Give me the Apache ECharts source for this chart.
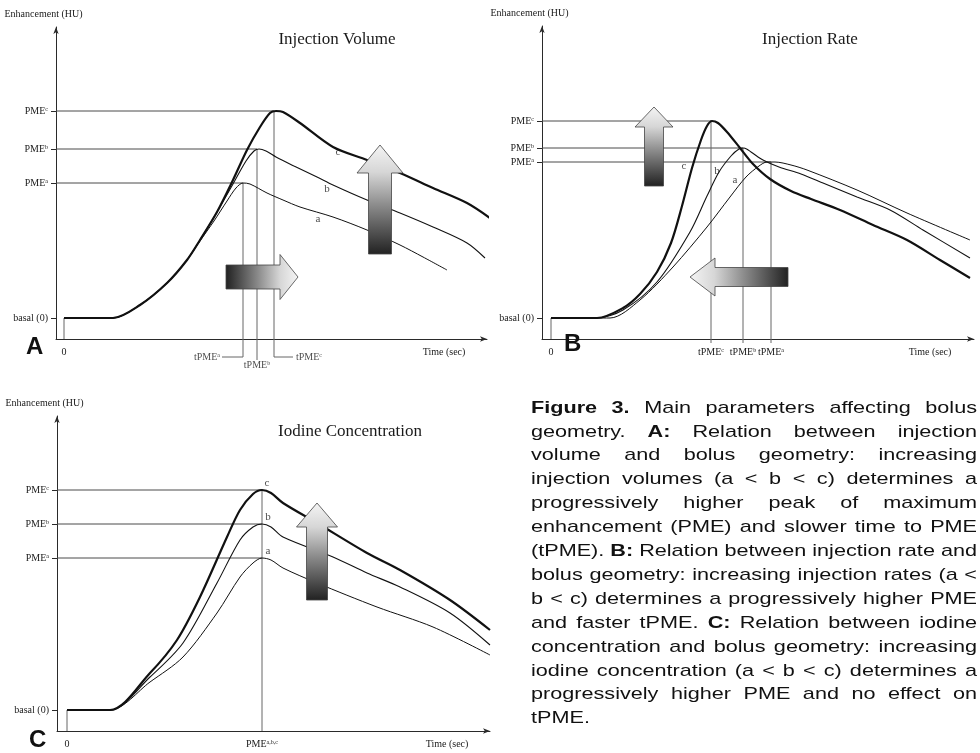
<!DOCTYPE html>
<html><head><meta charset="utf-8">
<script src="https://cdn.jsdelivr.net/npm/echarts@6/dist/echarts.min.js"></script>
<style>html,body{margin:0;padding:0;background:#fff}#c{width:980px;height:753px}</style>
</head><body><div id="c"></div>
<script>
// ===== Panel A : Injection Volume (x = time units, y = enhancement units, basal = 0) =====
const volA_a = [[0,0],[49,0],[76,13],[103,35],[123,58],[136,77],[150,97],[163,117],[172,130],[179,135],[186,134],[203,125],[219,118],[236,111],[269,101],[303,88],[336,73],[359,61],[383,48]];
const volA_b = [[0,0],[49,0],[76,13],[103,35],[123,58],[136,78],[153,106],[169,134],[182,157],[190,167],[195,169],[202,167],[212,161],[230,152],[253,141],[269,133],[303,118],[336,105],[369,91],[403,75],[421,60]];
const volA_c = [[0,0],[49,0],[76,13],[103,35],[123,58],[136,78],[153,106],[169,138],[183,168],[196,191],[206,205],[212,207],[219,206],[236,195],[269,171],[303,158],[336,145],[369,130],[403,115],[426,100]];
const pmeA  = [135,169,207];          // PME a,b,c
const tpmeA = [179,193,210];          // tPME a,b,c
const yLabelsA = ['basal (0)','PME{s|a}','PME{s|b}','PME{s|c}'];
const xTicksA = [0,380];
const xLabelsA = ['0','Time (sec)'];
const arrowsA = [[162,41,234,41],[316,64,316,173]];

// ===== Panel B : Injection Rate =====
const rateB_a = [[0,0],[59,0],[89,18],[122,51],[156,91],[179,121],[195,141],[208,152],[216,156],[224,156],[240,153],[256,148],[306,128],[356,105],[419,78]];
const rateB_b = [[0,0],[46,0],[72,8],[106,36],[139,86],[156,122],[168,146],[180,162],[188,169],[193,170],[200,166],[212,158],[228,151],[250,144],[272,135],[306,121],[339,108],[372,88],[419,60]];
const rateB_c = [[0,0],[46,0],[72,10],[89,24],[106,46],[120,75],[131,112],[141,150],[150,178],[156,192],[161,197],[167,195],[176,186],[189,170],[202,154],[219,139],[240,127],[260,119],[289,108],[322,93],[356,78],[389,58],[419,40]];
const pmeB  = [156,170,197];
const tpmeB = [220,192,160];
const yLabelsB = ['basal (0)','PME{s|a}','PME{s|b}','PME{s|c}'];
const xLabelsB = ['0','tPME{s|c}','tPME{s|b}','tPME{s|a}','Time (sec)'];
const arrowsB = [[103,132,103,211],[237,41,139,41]];

// ===== Panel C : Iodine Concentration =====
const concC_a = [[0,0],[43,0],[83,28],[116,53],[150,97],[173,133],[186,147],[195,152],[204,150],[216,142],[250,127],[310,103],[366,83],[423,55]];
const concC_b = [[0,0],[43,0],[83,33],[116,67],[150,127],[173,170],[186,183],[195,186],[204,183],[216,173],[266,153],[300,137],[333,123],[383,97],[423,65]];
const concC_c = [[0,0],[43,0],[83,37],[110,70],[133,113],[160,173],[173,200],[186,216],[195,220],[204,217],[216,207],[250,187],[300,157],[333,140],[383,110],[423,80]];
const pmeC  = [152,186,220];
const tpmeC = 195;
const yLabelsC = ['basal (0)','PME{s|a}','PME{s|b}','PME{s|c}'];
const xLabelsC = ['0','PME{s|a,b,c}','Time (sec)'];
const arrowsC = [[250,110,250,207]];

const captionLines = [
  'Figure 3. Main parameters affecting bolus',
  'geometry. A: Relation between injection',
  'volume and bolus geometry: increasing',
  'injection volumes (a < b < c) determines a',
  'progressively higher peak of maximum',
  'enhancement (PME) and slower time to PME',
  '(tPME). B: Relation between injection rate and',
  'bolus geometry: increasing injection rates (a <',
  'b < c) determines a progressively higher PME',
  'and faster tPME. C: Relation between iodine',
  'concentration and bolus geometry: increasing',
  'iodine concentration (a < b < c) determines a',
  'progressively higher PME and no effect on',
  'tPME.'
];
const boldWords = ['Figure','3.','A:','B:','C:'];

// ===== rendering =====
const SERIF = '"Liberation Serif","Times New Roman",serif';
const SANS = '"Liberation Sans",Arial,sans-serif';
const INK = '#1a1a1a';
const GUIDE = '#4a4a4a';
const RICH = { s: { fontSize: 6, fontFamily: SERIF, color: INK, verticalAlign: 'top', lineHeight: 8 } };

const grids = [
  { left: 56, top: 27, width: 431, height: 312 },
  { left: 542, top: 26, width: 432, height: 313 },
  { left: 57, top: 416, width: 433, height: 315 }
];
const ranges = [
  { x: [-8, 423], y: [-21, 291] },
  { x: [-9, 423], y: [-21, 292] },
  { x: [-10, 423], y: [-21, 294] }
];

function mapLabel(values, labels) { const m = {}; values.forEach((v, i) => m[v] = labels[i]); return v => m[v] !== undefined ? m[v] : ''; }

const yTickVals = [[0, ...pmeA], [0, ...pmeB], [0, ...pmeC]];
const yTickLabels = [yLabelsA, yLabelsB, yLabelsC];
const xTickVals = [xTicksA, [0, ...tpmeB.slice().reverse(), 379], [0, tpmeC, 380]];
const xTickLabels = [xLabelsA, xLabelsB, xLabelsC];

const axisLineStyle = { color: '#2a2a2a', width: 1 };
const xAxes = [], yAxes = [];
for (let g = 0; g < 3; g++) {
  xAxes.push({
    type: 'value', gridIndex: g, min: ranges[g].x[0], max: ranges[g].x[1],
    axisLine: { show: true, onZero: false, lineStyle: axisLineStyle, symbol: ['none', 'arrow'], symbolSize: [4, 7] },
    axisTick: { show: false },
    axisLabel: { show: true, customValues: xTickVals[g], formatter: mapLabel(xTickVals[g], xTickLabels[g]),
      margin: 8, fontFamily: SERIF, fontSize: 10, color: INK, rich: RICH, hideOverlap: false },
    splitLine: { show: false }
  });
  yAxes.push({
    type: 'value', gridIndex: g, min: ranges[g].y[0], max: ranges[g].y[1],
    name: 'Enhancement (HU)', nameLocation: 'end', nameGap: 8,
    nameTextStyle: { fontFamily: SERIF, fontSize: 10, color: INK, align: 'center', verticalAlign: 'bottom', padding: [0, 25, 0, 0] },
    axisLine: { show: true, onZero: false, lineStyle: axisLineStyle, symbol: ['none', 'arrow'], symbolSize: [4, 7] },
    axisTick: { show: true, customValues: yTickVals[g], length: 5, lineStyle: { color: '#2a2a2a' } },
    axisLabel: { show: true, customValues: yTickVals[g], formatter: mapLabel(yTickVals[g], yTickLabels[g]),
      margin: 8, fontFamily: SERIF, fontSize: 10, color: INK, rich: RICH },
    splitLine: { show: false }
  });
}

const series = [];
function line(g, data, width, color, smooth, z) {
  series.push({ type: 'line', xAxisIndex: g, yAxisIndex: g, data, symbol: 'none', smooth: smooth || false,
    clip: false, silent: true, animation: false, lineStyle: { width, color }, z: z || 2 });
}
function labels(g, items, fontSize) {
  series.push({ type: 'scatter', xAxisIndex: g, yAxisIndex: g, symbolSize: 0, clip: false, silent: true, z: 6,
    data: items.map(it => ({ value: [it[0], it[1]], label: { show: true, formatter: it[2], position: [0, 0],
      align: it[3] || 'center', verticalAlign: 'middle', fontFamily: SERIF, fontSize: fontSize, color: INK, rich: RICH } })) });
}
function arrow(g, spec, sz) {
  series.push({ type: 'custom', xAxisIndex: g, yAxisIndex: g, silent: true, z: 5, clip: false, data: [spec],
    renderItem: (p, api) => {
      const t = api.coord([api.value(0), api.value(1)]);
      const h = api.coord([api.value(2), api.value(3)]);
      const dx = h[0] - t[0], dy = h[1] - t[1], L = Math.hypot(dx, dy);
      const ux = dx / L, uy = dy / L, nx = -uy, ny = ux;
      const nk = [h[0] - ux * sz.hl, h[1] - uy * sz.hl];
      const pts = [
        [t[0] + nx * sz.bw, t[1] + ny * sz.bw], [nk[0] + nx * sz.bw, nk[1] + ny * sz.bw],
        [nk[0] + nx * sz.hw, nk[1] + ny * sz.hw], [h[0], h[1]],
        [nk[0] - nx * sz.hw, nk[1] - ny * sz.hw], [nk[0] - nx * sz.bw, nk[1] - ny * sz.bw],
        [t[0] - nx * sz.bw, t[1] - ny * sz.bw]
      ];
      const grad = new echarts.graphic.LinearGradient(t[0], t[1], h[0], h[1], [
        { offset: 0, color: '#222222' }, { offset: 0.45, color: '#8c8c8c' },
        { offset: 0.75, color: '#d6d6d6' }, { offset: 1, color: '#f4f4f4' }], true);
      return { type: 'polygon', shape: { points: pts }, style: { fill: grad, stroke: '#444', lineWidth: 0.8 } };
    } });
}

// --- Panel A
[0, 1, 2].forEach(i => {
  line(0, [[ranges[0].x[0], pmeA[i]], [tpmeA[i], pmeA[i]]], 1, GUIDE);
});
line(0, [[tpmeA[0], pmeA[0]], [tpmeA[0], -39], [158, -39]], 1, '#666');
line(0, [[tpmeA[1], pmeA[1]], [tpmeA[1], -42]], 1, '#666');
line(0, [[tpmeA[2], pmeA[2]], [tpmeA[2], -39], [229, -39]], 1, '#666');
line(0, [[0, 0], [0, ranges[0].y[0]]], 1, '#666');
line(0, volA_a, 1, '#111', 0.3, 3);
line(0, volA_b, 1.1, '#111', 0.3, 3);
line(0, volA_c, 2.2, '#111', 0.3, 4);
labels(0, [[156, -39, 'tPME{s|a}', 'right'], [tpmeA[1], -47, 'tPME{s|b}'], [232, -39, 'tPME{s|c}', 'left']], 10);
labels(0, [[274, 166, 'c'], [263, 129, 'b'], [254, 99, 'a']], 11);
arrow(0, arrowsA[0], { bw: 12, hw: 22.5, hl: 18 });
arrow(0, arrowsA[1], { bw: 11.5, hw: 23, hl: 28 });

// --- Panel B
[0, 1, 2].forEach(i => {
  line(1, [[ranges[1].x[0], pmeB[i]], [tpmeB[i], pmeB[i]]], 1, GUIDE);
  line(1, [[tpmeB[i], pmeB[i]], [tpmeB[i], -25]], 1, '#666');
});
line(1, [[0, 0], [0, ranges[1].y[0]]], 1, '#666');
line(1, rateB_a, 1, '#111', 0.3, 3);
line(1, rateB_b, 1.1, '#111', 0.3, 3);
line(1, rateB_c, 2.2, '#111', 0.3, 4);
labels(1, [[133, 152, 'c'], [166, 147, 'b'], [184, 138, 'a']], 11);
arrow(1, arrowsB[0], { bw: 9.5, hw: 19, hl: 20 });
arrow(1, arrowsB[1], { bw: 9.5, hw: 19, hl: 25 });

// --- Panel C
[0, 1, 2].forEach(i => {
  line(2, [[ranges[2].x[0], pmeC[i]], [tpmeC, pmeC[i]]], 1, GUIDE);
});
line(2, [[tpmeC, pmeC[2]], [tpmeC, ranges[2].y[0]]], 1, '#666');
line(2, [[0, 0], [0, ranges[2].y[0]]], 1, '#666');
line(2, concC_a, 1, '#111', 0.3, 3);
line(2, concC_b, 1.1, '#111', 0.3, 3);
line(2, concC_c, 2.2, '#111', 0.3, 4);
labels(2, [[200, 227, 'c'], [201, 193, 'b'], [201, 159, 'a']], 11);
arrow(2, arrowsC[0], { bw: 10.5, hw: 20.5, hl: 24 });

// --- Caption (justified)
const graphic = [];
(function () {
  const ctx = document.createElement('canvas').getContext('2d');
  const fontOf = b => (b ? 'bold ' : '') + '17px ' + SANS;
  const left = 531, right = 977, base0 = 414, lh = 23.9;
  const lines = captionLines.map(l => l.split(' ').map(w => ({ w, b: boldWords.includes(w) })));
  lines.forEach(ws => ws.forEach(o => { ctx.font = fontOf(o.b); o.width = ctx.measureText(o.w).width; }));
  ctx.font = fontOf(false);
  const sp = ctx.measureText(' ').width;
  let s = Infinity;
  lines.slice(0, -1).forEach(ws => {
    const nat = ws.reduce((a, o) => a + o.width, 0) + sp * (ws.length - 1);
    s = Math.min(s, (right - left) / nat);
  });
  lines.forEach((ws, i) => {
    const last = i === lines.length - 1;
    const sum = ws.reduce((a, o) => a + o.width * s, 0);
    const gap = last ? sp * s : (right - left - sum) / (ws.length - 1);
    let x = left;
    ws.forEach(o => {
      graphic.push({ type: 'text', x: x, y: base0 + i * lh - 6, scaleX: s, silent: true,
        style: { text: o.w, font: fontOf(o.b), fill: '#111', verticalAlign: 'middle', align: 'left' } });
      x += o.width * s + gap;
    });
  });
})();

const titleStyle = { fontFamily: SERIF, fontSize: 17, fontWeight: 'normal', color: INK };
const letterStyle = { fontFamily: SANS, fontSize: 24, fontWeight: 'bold', color: '#111' };
const option = {
  backgroundColor: '#fff',
  animation: false,
  title: [
    { text: 'Injection Volume', left: 337, top: 31, textAlign: 'center', padding: 0, textStyle: titleStyle },
    { text: 'Injection Rate', left: 810, top: 31, textAlign: 'center', padding: 0, textStyle: titleStyle },
    { text: 'Iodine Concentration', left: 350, top: 423, textAlign: 'center', padding: 0, textStyle: titleStyle },
    { text: 'A', left: 26, top: 335, padding: 0, textStyle: letterStyle },
    { text: 'B', left: 564, top: 332, padding: 0, textStyle: letterStyle },
    { text: 'C', left: 29, top: 728, padding: 0, textStyle: letterStyle }
  ],
  grid: grids,
  xAxis: xAxes,
  yAxis: yAxes,
  series: series,
  graphic: graphic
};
const chart = echarts.init(document.getElementById('c'), null, { renderer: 'canvas' });
chart.setOption(option);
</script>
</body></html>
